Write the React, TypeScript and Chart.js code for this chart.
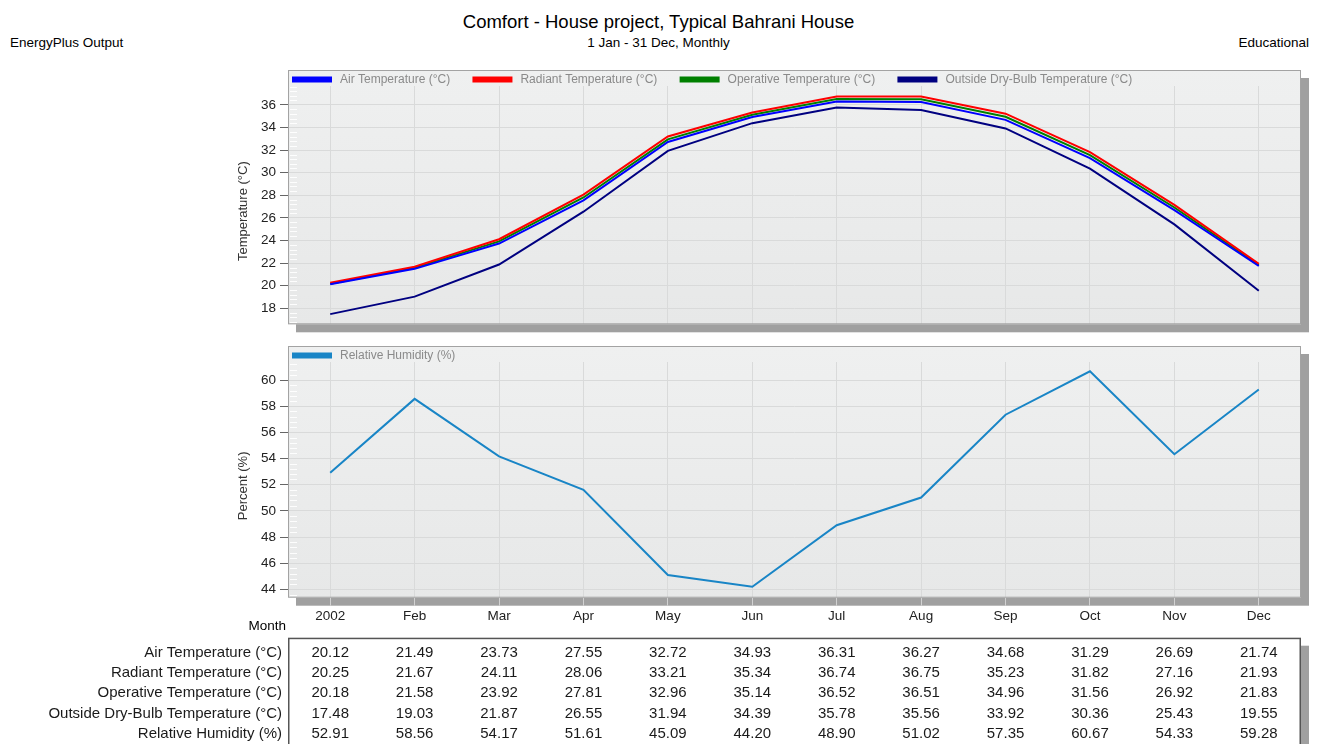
import React, { useEffect, useRef } from 'react';
import { Chart, registerables } from 'chart.js';

Chart.register(...registerables);

const FONT = '"Liberation Sans", Arial, sans-serif';

const months = ['2002', 'Feb', 'Mar', 'Apr', 'May', 'Jun', 'Jul', 'Aug', 'Sep', 'Oct', 'Nov', 'Dec'];
const airTemp = [20.12, 21.49, 23.73, 27.55, 32.72, 34.93, 36.31, 36.27, 34.68, 31.29, 26.69, 21.74];
const radiantTemp = [20.25, 21.67, 24.11, 28.06, 33.21, 35.34, 36.74, 36.75, 35.23, 31.82, 27.16, 21.93];
const operativeTemp = [20.18, 21.58, 23.92, 27.81, 32.96, 35.14, 36.52, 36.51, 34.96, 31.56, 26.92, 21.83];
const outsideTemp = [17.48, 19.03, 21.87, 26.55, 31.94, 34.39, 35.78, 35.56, 33.92, 30.36, 25.43, 19.55];
const relHumidity = [52.91, 58.56, 54.17, 51.61, 45.09, 44.2, 48.9, 51.02, 57.35, 60.67, 54.33, 59.28];

const tempTicks = [18, 20, 22, 24, 26, 28, 30, 32, 34, 36];
const rhTicks = [44, 46, 48, 50, 52, 54, 56, 58, 60];

const seriesLabels = [
  'Air Temperature (°C)',
  'Radiant Temperature (°C)',
  'Operative Temperature (°C)',
  'Outside Dry-Bulb Temperature (°C)',
  'Relative Humidity (%)',
];
const seriesColors = ['#0000ff', '#ff0000', '#008000', '#000080', '#1985c6'];
const tableValues = [airTemp, radiantTemp, operativeTemp, outsideTemp, relHumidity];

const GRID = '#d9dada';

const framePlugin = {
  id: 'frame',
  beforeDraw(chart: any) {
    const { ctx, chartArea: a } = chart;
    const top = a.top - 16;
    ctx.save();
    ctx.fillStyle = '#a0a0a0';
    ctx.fillRect(a.left + 8, top + 8, a.right - a.left, a.bottom - top);
    const g = ctx.createLinearGradient(0, top, 0, a.bottom);
    g.addColorStop(0, '#eff0f0');
    g.addColorStop(1, '#e7e8e8');
    ctx.fillStyle = g;
    ctx.fillRect(a.left, top, a.right - a.left, a.bottom - top);
    ctx.restore();
  },
  beforeDatasetsDraw(chart: any) {
    const { ctx, chartArea: a } = chart;
    const y = chart.scales.y;
    ctx.save();
    ctx.strokeStyle = 'rgba(255,255,255,0.9)';
    ctx.lineWidth = 1;
    for (let v = Math.ceil(y.min / 0.4) * 0.4; v <= y.max; v += 0.4) {
      const r = Math.round(v * 10) / 10;
      if (Math.abs(r - Math.round(r / 2) * 2) < 0.01) continue;
      const py = Math.round(y.getPixelForValue(r)) + 0.5;
      ctx.beginPath();
      ctx.moveTo(a.left + 2, py);
      ctx.lineTo(a.left + 9, py);
      ctx.stroke();
    }
    ctx.restore();
  },
  afterDraw(chart: any) {
    const { ctx, chartArea: a } = chart;
    const top = a.top - 16;
    ctx.save();
    ctx.strokeStyle = '#a3a3a3';
    ctx.lineWidth = 1;
    ctx.strokeRect(a.left + 0.5, top + 0.5, a.right - a.left - 1, a.bottom - top - 1);
    // y-axis title
    const yTitle = chart.options.plugins.frame.yTitle;
    ctx.save();
    ctx.translate(243.3, (a.top + a.bottom) / 2 + 6);
    ctx.rotate(-Math.PI / 2);
    ctx.font = `13px ${FONT}`;
    ctx.fillStyle = '#333';
    ctx.textAlign = 'center';
    ctx.textBaseline = 'middle';
    ctx.fillText(yTitle, 0, 0);
    ctx.restore();
    // legend
    ctx.font = `12px ${FONT}`;
    ctx.textBaseline = 'middle';
    ctx.textAlign = 'left';
    let sx = a.left + 4;
    const cy = top + 9.5;
    chart.data.datasets.forEach((ds: any) => {
      ctx.fillStyle = ds.borderColor;
      ctx.fillRect(sx, cy - 3, 40, 6);
      ctx.fillStyle = '#8a8a8a';
      const tx = sx + 48;
      ctx.fillText(ds.label, tx, cy);
      sx = tx + ctx.measureText(ds.label).width + 22.3;
    });
    ctx.restore();
  },
};

const tablePlugin = {
  id: 'table',
  afterDraw(chart: any) {
    const { ctx, chartArea: a } = chart;
    const xs = chart.scales.x;
    const tableTop = a.bottom + 40;
    const h = chart.height;
    ctx.save();
    ctx.font = `13.5px ${FONT}`;
    ctx.fillStyle = '#000';
    ctx.textAlign = 'right';
    ctx.textBaseline = 'middle';
    ctx.fillText('Month', a.left - 2, a.bottom + 29);
    ctx.fillStyle = '#a0a0a0';
    ctx.fillRect(a.right, tableTop + 8, 8, h);
    ctx.strokeStyle = '#555';
    ctx.lineWidth = 1.5;
    ctx.strokeRect(a.left + 0.75, tableTop + 0.75, a.right - a.left - 1.5, h);
    ctx.font = `15px ${FONT}`;
    ctx.fillStyle = '#1a1a1a';
    seriesLabels.forEach((lab, r) => {
      const ry = tableTop + 14.8 + r * 20.35;
      ctx.textAlign = 'right';
      ctx.fillText(lab, a.left - 6, ry);
      ctx.textAlign = 'center';
      tableValues[r].forEach((v, i) => {
        ctx.fillText(v.toFixed(2), xs.getPixelForTick(i), ry);
      });
    });
    ctx.restore();
  },
};

function yScale(min: number, max: number, ticks: number[]) {
  return {
    min,
    max,
    afterBuildTicks: (s: any) => {
      s.ticks = ticks.map((v) => ({ value: v }));
    },
    afterFit: (s: any) => {
      s.width = 56;
    },
    border: { display: false },
    grid: { color: GRID, tickColor: '#666', tickLength: 8, lineWidth: 1 },
    ticks: { font: { size: 13.5, family: FONT }, color: '#222', padding: 4 },
    title: { display: false },
  };
}

function TempChart() {
  const ref = useRef<HTMLCanvasElement>(null);
  useEffect(() => {
    const chart = new Chart(ref.current!, {
      type: 'line',
      data: {
        labels: months,
        datasets: [0, 1, 2, 3].map((k) => ({
          label: seriesLabels[k],
          data: tableValues[k],
          borderColor: seriesColors[k],
          backgroundColor: seriesColors[k],
          borderWidth: 2,
          pointRadius: 0,
          tension: 0,
          fill: false,
        })),
      },
      options: {
        animation: false,
        responsive: true,
        maintainAspectRatio: false,
        layout: { padding: { left: 232, right: 16, top: 26, bottom: 15.7 } },
        plugins: { legend: { display: false }, tooltip: { enabled: false }, frame: { yTitle: 'Temperature (°C)' } },
        scales: {
          x: {
            type: 'category',
            offset: true,
            grid: { offset: false, color: GRID, drawTicks: false },
            border: { display: false },
            ticks: { display: false },
            afterFit: (s: any) => {
              s.height = 0;
            },
          },
          y: yScale(16.58, 37.68, tempTicks),
        },
      } as any,
      plugins: [framePlugin],
    });
    return () => chart.destroy();
  }, []);
  return (
    <div style={{ position: 'absolute', left: 0, top: 60, width: 1317, height: 280 }}>
      <canvas ref={ref} />
    </div>
  );
}

function RhChart() {
  const ref = useRef<HTMLCanvasElement>(null);
  useEffect(() => {
    const chart = new Chart(ref.current!, {
      type: 'line',
      data: {
        labels: months,
        datasets: [
          {
            label: seriesLabels[4],
            data: relHumidity,
            borderColor: seriesColors[4],
            backgroundColor: seriesColors[4],
            borderWidth: 2,
            pointRadius: 0,
            tension: 0,
            fill: false,
          },
        ],
      },
      options: {
        animation: false,
        responsive: true,
        maintainAspectRatio: false,
        layout: { padding: { left: 232, right: 16, top: 22, bottom: 116.3 } },
        plugins: { legend: { display: false }, tooltip: { enabled: false }, frame: { yTitle: 'Percent (%)' } },
        scales: {
          x: {
            type: 'category',
            offset: true,
            grid: { offset: false, color: GRID, tickColor: '#d2d2d2', tickLength: 8 },
            border: { display: false },
            ticks: { font: { size: 13.5, family: FONT }, color: '#222', padding: 2.5, maxRotation: 0 },
            afterFit: (s: any) => {
              s.height = 30;
            },
          },
          y: yScale(43.36, 61.38, rhTicks),
        },
      } as any,
      plugins: [framePlugin, tablePlugin],
    });
    return () => chart.destroy();
  }, []);
  return (
    <div style={{ position: 'absolute', left: 0, top: 340, width: 1317, height: 404 }}>
      <canvas ref={ref} />
    </div>
  );
}

export default function App() {
  const text: React.CSSProperties = { position: 'absolute', fontFamily: FONT, color: '#000', whiteSpace: 'nowrap' };
  return (
    <div style={{ position: 'fixed', left: 0, top: 0, width: 1317, height: 744, background: '#fff', overflow: 'hidden' }}>
      <div style={{ ...text, left: 0, width: 1317, top: 11, lineHeight: '22px', fontSize: 18.5, textAlign: 'center' }}>
        Comfort - House project, Typical Bahrani House
      </div>
      <div style={{ ...text, left: 0, width: 1317, top: 34.5, lineHeight: '16px', fontSize: 13.5, textAlign: 'center' }}>
        1 Jan - 31 Dec, Monthly
      </div>
      <div style={{ ...text, left: 10, top: 34.5, lineHeight: '16px', fontSize: 13.5 }}>EnergyPlus Output</div>
      <div style={{ ...text, right: 8, top: 34.5, lineHeight: '16px', fontSize: 13.5, textAlign: 'right' }}>Educational</div>
      <TempChart />
      <RhChart />
    </div>
  );
}
